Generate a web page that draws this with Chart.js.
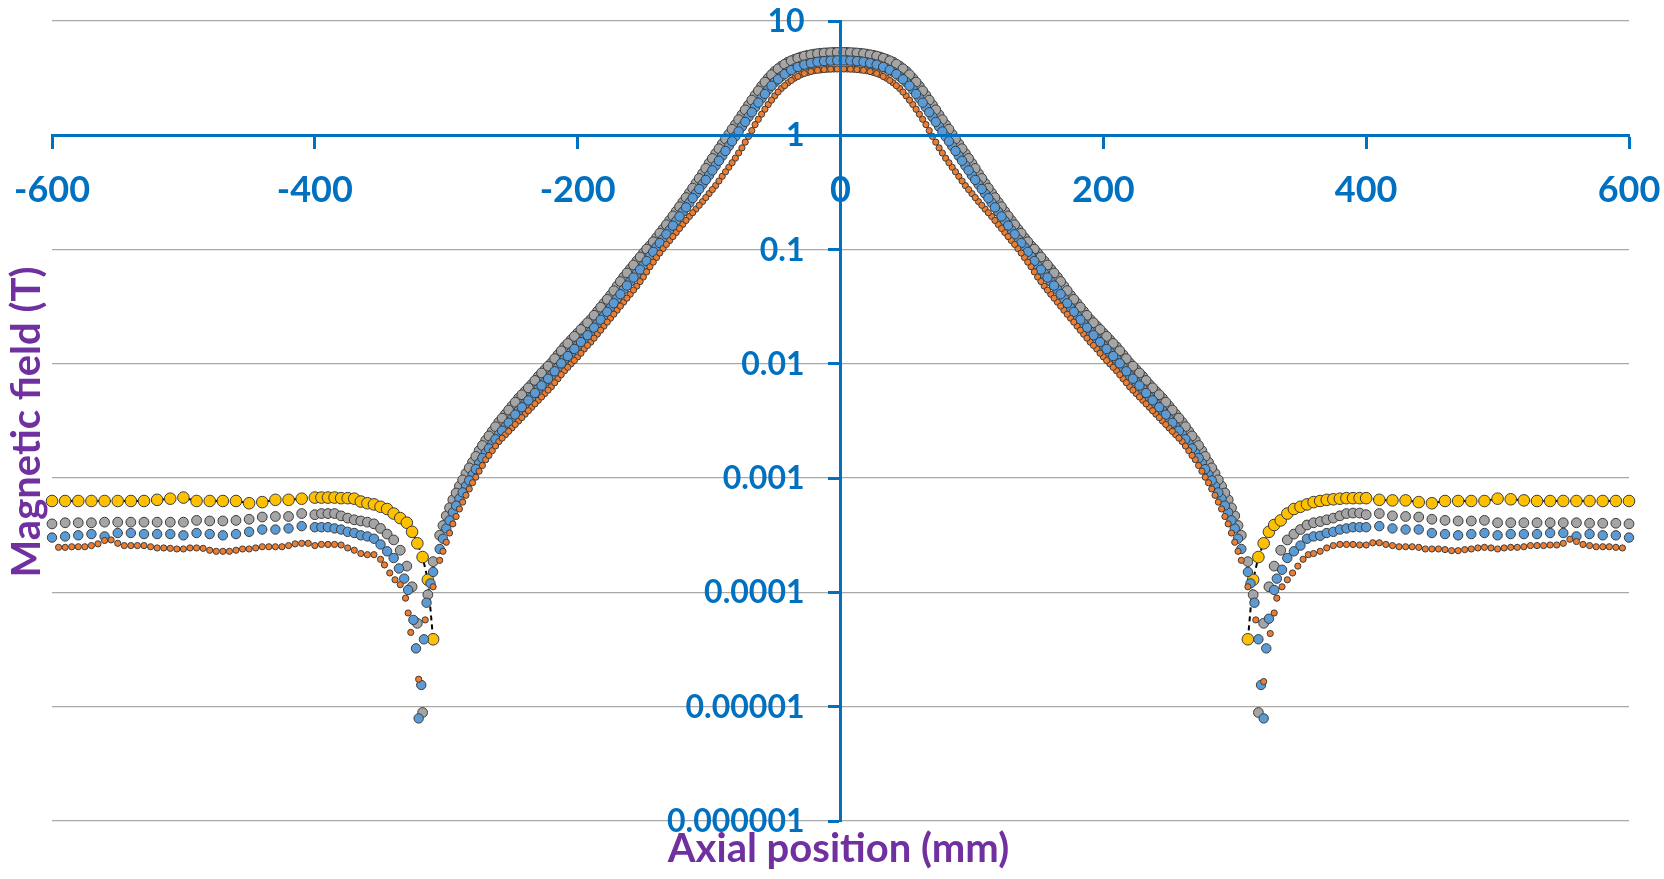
<!DOCTYPE html>
<html>
<head>
<meta charset="utf-8">
<title>Magnetic field vs axial position</title>
<script src="https://cdn.jsdelivr.net/npm/chart.js@4.4.1/dist/chart.umd.min.js"></script>
<style>
  html, body { margin: 0; padding: 0; background: #ffffff; }
  #wrap { width: 1664px; height: 879px; position: relative; }
</style>
</head>
<body>
<div id="wrap"><canvas id="fieldChart"></canvas></div>
<script>

// ================= DATA =================

const xTicks = [-600, -400, -200, 0, 200, 400, 600];
const xTickLabels = ["-600", "-400", "-200", "0", "200", "400", "600"];
const yTicks = [0.000001, 0.00001, 0.0001, 0.001, 0.01, 0.1, 1, 10];
const yTickLabels = ["0.000001", "0.00001", "0.0001", "0.001", "0.01", "0.1", "1", "10"];

// central part, shared x positions (mm)
const coreX = [
  -305, -300, -295, -290, -285, -280, -275, -270, -265, -260, -255, -250, -245, -240, -235, -230,
  -225, -220, -215, -210, -205, -200, -195, -190, -185, -180, -175, -170, -165, -160, -155, -150,
  -145, -140, -135, -130, -125, -120, -115, -110, -105, -100, -95, -90, -85, -80, -75, -70,
  -65, -60, -55, -50, -45, -40, -35, -30, -25, -20, -15, -10, -5,
  0,
  5, 10, 15, 20, 25, 30, 35, 40, 45, 50, 55, 60, 65, 70, 75, 80,
  85, 90, 95, 100, 105, 110, 115, 120, 125, 130, 135, 140, 145, 150, 155, 160,
  165, 170, 175, 180, 185, 190, 195, 200, 205, 210, 215, 220, 225, 230, 235, 240,
  245, 250, 255, 260, 265, 270, 275, 280, 285, 290, 295, 300, 305
];

const grayCore = [
  3.16e-4, 4.68e-4, 6.46e-4, 8.51e-4, 1.10e-3, 1.38e-3, 1.74e-3, 2.14e-3, 2.57e-3, 3.09e-3, 3.63e-3, 4.27e-3, 5.01e-3, 5.75e-3, 6.61e-3, 7.76e-3,
  8.91e-3, 1.02e-2, 1.20e-2, 1.41e-2, 1.62e-2, 1.86e-2, 2.14e-2, 2.45e-2, 2.88e-2, 3.39e-2, 3.98e-2, 4.79e-2, 5.75e-2, 6.76e-2, 7.94e-2, 9.33e-2,
  0.108, 0.127, 0.151, 0.180, 0.216, 0.260, 0.313, 0.380, 0.462, 0.569, 0.692, 0.841, 1.02, 1.24, 1.51, 1.84,
  2.24, 2.69, 3.16, 3.63, 4.03, 4.37, 4.62, 4.84, 5.01, 5.13, 5.22, 5.27, 5.31,
  5.31,
  5.31, 5.27, 5.22, 5.13, 5.01, 4.84, 4.62, 4.37, 4.03, 3.63, 3.16, 2.69, 2.24, 1.84, 1.51, 1.24,
  1.02, 0.841, 0.692, 0.569, 0.462, 0.380, 0.313, 0.260, 0.216, 0.180, 0.151, 0.127, 0.108, 9.33e-2, 7.94e-2, 6.76e-2,
  5.75e-2, 4.79e-2, 3.98e-2, 3.39e-2, 2.88e-2, 2.45e-2, 2.14e-2, 1.86e-2, 1.62e-2, 1.41e-2, 1.20e-2, 1.02e-2, 8.91e-3, 7.76e-3, 6.61e-3, 5.75e-3,
  5.01e-3, 4.27e-3, 3.63e-3, 3.09e-3, 2.57e-3, 2.14e-3, 1.74e-3, 1.38e-3, 1.10e-3, 8.51e-4, 6.46e-4, 4.68e-4, 3.16e-4
];

const blueCore = [
  2.40e-4, 3.63e-4, 5.01e-4, 6.61e-4, 8.51e-4, 1.07e-3, 1.35e-3, 1.66e-3, 2.00e-3, 2.40e-3, 2.82e-3, 3.31e-3, 3.89e-3, 4.47e-3, 5.13e-3, 6.03e-3,
  6.92e-3, 7.94e-3, 9.33e-3, 1.10e-2, 1.26e-2, 1.45e-2, 1.66e-2, 1.91e-2, 2.24e-2, 2.63e-2, 3.09e-2, 3.72e-2, 4.47e-2, 5.25e-2, 6.17e-2, 7.24e-2,
  8.71e-2, 0.105, 0.124, 0.148, 0.178, 0.214, 0.257, 0.309, 0.372, 0.447, 0.543, 0.661, 0.804, 0.977, 1.19, 1.45,
  1.76, 2.11, 2.51, 2.92, 3.27, 3.59, 3.85, 4.07, 4.22, 4.35, 4.44, 4.49, 4.52,
  4.52,
  4.52, 4.49, 4.44, 4.35, 4.22, 4.07, 3.85, 3.59, 3.27, 2.92, 2.51, 2.11, 1.76, 1.45, 1.19, 0.977,
  0.804, 0.661, 0.543, 0.447, 0.372, 0.309, 0.257, 0.214, 0.178, 0.148, 0.124, 0.105, 8.71e-2, 7.24e-2, 6.17e-2, 5.25e-2,
  4.47e-2, 3.72e-2, 3.09e-2, 2.63e-2, 2.24e-2, 1.91e-2, 1.66e-2, 1.45e-2, 1.26e-2, 1.10e-2, 9.33e-3, 7.94e-3, 6.92e-3, 6.03e-3, 5.13e-3, 4.47e-3,
  3.89e-3, 3.31e-3, 2.82e-3, 2.40e-3, 2.00e-3, 1.66e-3, 1.35e-3, 1.07e-3, 8.51e-4, 6.61e-4, 5.01e-4, 3.63e-4, 2.40e-4
];

const orangeCore = [
  1.91e-4, 2.75e-4, 3.98e-4, 5.37e-4, 7.08e-4, 9.12e-4, 1.15e-3, 1.45e-3, 1.74e-3, 2.09e-3, 2.40e-3, 2.75e-3, 3.16e-3, 3.63e-3, 4.17e-3, 4.79e-3,
  5.50e-3, 6.31e-3, 7.41e-3, 8.71e-3, 1.00e-2, 1.15e-2, 1.35e-2, 1.55e-2, 1.82e-2, 2.14e-2, 2.51e-2, 2.95e-2, 3.47e-2, 4.07e-2, 4.79e-2, 5.75e-2,
  7.08e-2, 8.51e-2, 0.102, 0.120, 0.141, 0.166, 0.195, 0.226, 0.263, 0.309, 0.363, 0.437, 0.525, 0.631, 0.776, 0.977,
  1.24, 1.53, 1.86, 2.21, 2.57, 2.88, 3.16, 3.39, 3.55, 3.67, 3.73, 3.78, 3.80,
  3.80,
  3.80, 3.78, 3.73, 3.67, 3.55, 3.39, 3.16, 2.88, 2.57, 2.21, 1.86, 1.53, 1.24, 0.977, 0.776, 0.631,
  0.525, 0.437, 0.363, 0.309, 0.263, 0.226, 0.195, 0.166, 0.141, 0.120, 0.102, 8.51e-2, 7.08e-2, 5.75e-2, 4.79e-2, 4.07e-2,
  3.47e-2, 2.95e-2, 2.51e-2, 2.14e-2, 1.82e-2, 1.55e-2, 1.35e-2, 1.15e-2, 1.00e-2, 8.71e-3, 7.41e-3, 6.31e-3, 5.50e-3, 4.79e-3, 4.17e-3, 3.63e-3,
  3.16e-3, 2.75e-3, 2.40e-3, 2.09e-3, 1.74e-3, 1.45e-3, 1.15e-3, 9.12e-4, 7.08e-4, 5.37e-4, 3.98e-4, 2.75e-4, 1.91e-4
];

// the central samples in between (x = +/-2.5, 7.5, ... mm)
const midX = [
  -302.5, -297.5, -292.5, -287.5, -282.5, -277.5, -272.5, -267.5, -262.5, -257.5,
  -252.5, -247.5, -242.5, -237.5, -232.5, -227.5, -222.5, -217.5, -212.5, -207.5,
  -202.5, -197.5, -192.5, -187.5, -182.5, -177.5, -172.5, -167.5, -162.5, -157.5,
  -152.5, -147.5, -142.5, -137.5, -132.5, -127.5, -122.5, -117.5, -112.5, -107.5,
  -102.5, -97.5, -92.5, -87.5, -82.5, -77.5, -72.5, -67.5, -62.5, -57.5,
  -52.5, -47.5, -42.5, -37.5, -32.5, -27.5, -22.5, -17.5, -12.5, -7.5, -2.5,
  2.5, 7.5, 12.5, 17.5, 22.5, 27.5, 32.5, 37.5, 42.5, 47.5, 52.5,
  57.5, 62.5, 67.5, 72.5, 77.5, 82.5, 87.5, 92.5, 97.5, 102.5,
  107.5, 112.5, 117.5, 122.5, 127.5, 132.5, 137.5, 142.5, 147.5, 152.5,
  157.5, 162.5, 167.5, 172.5, 177.5, 182.5, 187.5, 192.5, 197.5, 202.5,
  207.5, 212.5, 217.5, 222.5, 227.5, 232.5, 237.5, 242.5, 247.5, 252.5,
  257.5, 262.5, 267.5, 272.5, 277.5, 282.5, 287.5, 292.5, 297.5, 302.5
];

const grayMid = [
  3.85e-4, 5.50e-4, 7.41e-4, 9.66e-4, 1.23e-3, 1.55e-3, 1.93e-3, 2.34e-3, 2.82e-3, 3.35e-3,
  3.94e-3, 4.62e-3, 5.37e-3, 6.17e-3, 7.16e-3, 8.32e-3, 9.55e-3, 1.11e-2, 1.30e-2, 1.51e-2,
  1.74e-2, 2.00e-2, 2.29e-2, 2.66e-2, 3.13e-2, 3.67e-2, 4.37e-2, 5.25e-2, 6.24e-2, 7.33e-2,
  8.61e-2, 0.101, 0.117, 0.139, 0.165, 0.197, 0.237, 0.285, 0.345, 0.419,
  0.513, 0.627, 0.763, 0.928, 1.13, 1.37, 1.67, 2.03, 2.45, 2.92,
  3.39, 3.82, 4.19, 4.49, 4.73, 4.93, 5.07, 5.18, 5.25, 5.29, 5.31,
  5.31, 5.29, 5.25, 5.18, 5.07, 4.93, 4.73, 4.49, 4.19, 3.82, 3.39,
  2.92, 2.45, 2.03, 1.67, 1.37, 1.13, 0.928, 0.763, 0.627, 0.513,
  0.419, 0.345, 0.285, 0.237, 0.197, 0.165, 0.139, 0.117, 0.101, 8.61e-2,
  7.33e-2, 6.24e-2, 5.25e-2, 4.37e-2, 3.67e-2, 3.13e-2, 2.66e-2, 2.29e-2, 2.00e-2, 1.74e-2,
  1.51e-2, 1.30e-2, 1.11e-2, 9.55e-3, 8.32e-3, 7.16e-3, 6.17e-3, 5.37e-3, 4.62e-3, 3.94e-3,
  3.35e-3, 2.82e-3, 2.34e-3, 1.93e-3, 1.55e-3, 1.23e-3, 9.66e-4, 7.41e-4, 5.50e-4, 3.85e-4
];

const blueMid = [
  2.95e-4, 4.27e-4, 5.75e-4, 7.50e-4, 9.55e-4, 1.20e-3, 1.50e-3, 1.82e-3, 2.19e-3, 2.60e-3,
  3.05e-3, 3.59e-3, 4.17e-3, 4.79e-3, 5.56e-3, 6.46e-3, 7.41e-3, 8.61e-3, 1.01e-2, 1.17e-2,
  1.35e-2, 1.55e-2, 1.78e-2, 2.07e-2, 2.43e-2, 2.85e-2, 3.39e-2, 4.07e-2, 4.84e-2, 5.69e-2,
  6.68e-2, 7.94e-2, 9.55e-2, 0.114, 0.136, 0.162, 0.195, 0.234, 0.282, 0.339,
  0.407, 0.493, 0.599, 0.729, 0.886, 1.08, 1.31, 1.59, 1.93, 2.30,
  2.71, 3.09, 3.43, 3.72, 3.96, 4.15, 4.28, 4.39, 4.46, 4.50, 4.52,
  4.52, 4.50, 4.46, 4.39, 4.28, 4.15, 3.96, 3.72, 3.43, 3.09, 2.71,
  2.30, 1.93, 1.59, 1.31, 1.08, 0.886, 0.729, 0.599, 0.493, 0.407,
  0.339, 0.282, 0.234, 0.195, 0.162, 0.136, 0.114, 9.55e-2, 7.94e-2, 6.68e-2,
  5.69e-2, 4.84e-2, 4.07e-2, 3.39e-2, 2.85e-2, 2.43e-2, 2.07e-2, 1.78e-2, 1.55e-2, 1.35e-2,
  1.17e-2, 1.01e-2, 8.61e-3, 7.41e-3, 6.46e-3, 5.56e-3, 4.79e-3, 4.17e-3, 3.59e-3, 3.05e-3,
  2.60e-3, 2.19e-3, 1.82e-3, 1.50e-3, 1.20e-3, 9.55e-4, 7.50e-4, 5.75e-4, 4.27e-4, 2.95e-4
];

const orangeMid = [
  2.29e-4, 3.31e-4, 4.62e-4, 6.17e-4, 8.04e-4, 1.02e-3, 1.29e-3, 1.58e-3, 1.91e-3, 2.24e-3,
  2.57e-3, 2.95e-3, 3.39e-3, 3.89e-3, 4.47e-3, 5.13e-3, 5.89e-3, 6.84e-3, 8.04e-3, 9.33e-3,
  1.07e-2, 1.24e-2, 1.45e-2, 1.68e-2, 1.97e-2, 2.32e-2, 2.72e-2, 3.20e-2, 3.76e-2, 4.42e-2,
  5.25e-2, 6.38e-2, 7.76e-2, 9.33e-2, 0.111, 0.130, 0.153, 0.180, 0.210, 0.244,
  0.285, 0.335, 0.398, 0.479, 0.575, 0.700, 0.871, 1.10, 1.38, 1.69,
  2.03, 2.39, 2.72, 3.02, 3.27, 3.47, 3.61, 3.70, 3.76, 3.79, 3.80,
  3.80, 3.79, 3.76, 3.70, 3.61, 3.47, 3.27, 3.02, 2.72, 2.39, 2.03,
  1.69, 1.38, 1.10, 0.871, 0.700, 0.575, 0.479, 0.398, 0.335, 0.285,
  0.244, 0.210, 0.180, 0.153, 0.130, 0.111, 9.33e-2, 7.76e-2, 6.38e-2, 5.25e-2,
  4.42e-2, 3.76e-2, 3.20e-2, 2.72e-2, 2.32e-2, 1.97e-2, 1.68e-2, 1.45e-2, 1.24e-2, 1.07e-2,
  9.33e-3, 8.04e-3, 6.84e-3, 5.89e-3, 5.13e-3, 4.47e-3, 3.89e-3, 3.39e-3, 2.95e-3, 2.57e-3,
  2.24e-3, 1.91e-3, 1.58e-3, 1.29e-3, 1.02e-3, 8.04e-4, 6.17e-4, 4.62e-4, 3.31e-4, 2.29e-4
];

// outer parts and the dips
const grayLeftX = [
  -600, -590, -580, -570, -560, -550, -540, -530, -520, -510, -500, -490, -480, -470, -460, -450, -440, -430, -420, -410, -400,
  -395, -390, -385, -380, -375, -370, -365, -360, -355, -350, -345, -340, -335, -330, -326, -322, -318, -314, -310
];
const grayLeft = [
  3.98e-4, 4.07e-4, 4.07e-4, 4.07e-4, 4.12e-4, 4.12e-4, 4.12e-4, 4.12e-4, 4.12e-4, 4.12e-4, 4.12e-4, 4.27e-4, 4.22e-4, 4.22e-4, 4.27e-4, 4.37e-4, 4.57e-4, 4.62e-4, 4.62e-4, 4.90e-4, 4.79e-4,
  4.90e-4, 4.90e-4, 4.90e-4, 4.68e-4, 4.47e-4, 4.32e-4, 4.22e-4, 4.12e-4, 3.98e-4, 3.63e-4, 3.24e-4, 2.88e-4, 2.34e-4, 1.70e-4, 1.12e-4, 5.37e-5, 8.9e-6, 9.55e-5, 1.86e-4
];
const grayRightX = [
  310, 314, 318, 322, 326, 330, 335, 340, 345, 350, 355, 360, 365, 370, 375, 380, 385, 390, 395,
  400, 410, 420, 430, 440, 450, 460, 470, 480, 490, 500, 510, 520, 530, 540, 550, 560, 570, 580, 590, 600
];
const grayRight = [
  1.86e-4, 9.55e-5, 8.9e-6, 5.37e-5, 1.12e-4, 1.70e-4, 2.34e-4, 2.88e-4, 3.24e-4, 3.55e-4, 3.89e-4, 4.07e-4, 4.17e-4, 4.32e-4, 4.47e-4, 4.68e-4, 4.90e-4, 4.95e-4, 4.95e-4,
  4.79e-4, 4.90e-4, 4.68e-4, 4.62e-4, 4.57e-4, 4.37e-4, 4.27e-4, 4.22e-4, 4.22e-4, 4.27e-4, 4.07e-4, 4.07e-4, 4.07e-4, 4.07e-4, 4.07e-4, 4.07e-4, 4.07e-4, 4.03e-4, 4.03e-4, 4.03e-4, 3.98e-4
];

const blueLeftX = [
  -600, -590, -580, -570, -560, -550, -540, -530, -520, -510, -500, -490, -480, -470, -460, -450, -440, -430, -420, -410, -400,
  -395, -390, -385, -380, -375, -370, -365, -360, -355, -350, -345,
  -340, -336, -332, -329, -325, -323, -321, -319, -317, -315, -312, -310
];
const blueLeft = [
  3.02e-4, 3.09e-4, 3.16e-4, 3.24e-4, 3.09e-4, 3.31e-4, 3.31e-4, 3.24e-4, 3.24e-4, 3.24e-4, 3.16e-4, 3.31e-4, 3.24e-4, 3.16e-4, 3.24e-4, 3.39e-4, 3.55e-4, 3.55e-4, 3.63e-4, 3.80e-4, 3.72e-4,
  3.72e-4, 3.72e-4, 3.63e-4, 3.55e-4, 3.39e-4, 3.31e-4, 3.16e-4, 3.09e-4, 2.95e-4, 2.63e-4, 2.29e-4,
  2.00e-4, 1.62e-4, 1.32e-4, 1.05e-4, 5.75e-5, 3.24e-5, 7.9e-6, 1.55e-5, 3.89e-5, 8.13e-5, 1.20e-4, 1.51e-4
];
const blueRightX = [
  310, 312, 315, 318, 320, 322, 324, 326, 330, 332, 336, 340,
  345, 350, 355, 360, 365, 370, 375, 380, 385, 390, 395,
  400, 410, 420, 430, 440, 450, 460, 470, 480, 490, 500, 510, 520, 530, 540, 550, 560, 570, 580, 590, 600
];
const blueRight = [
  1.51e-4, 1.20e-4, 8.13e-5, 3.89e-5, 1.55e-5, 7.9e-6, 3.24e-5, 5.89e-5, 1.05e-4, 1.32e-4, 1.58e-4, 2.00e-4,
  2.29e-4, 2.57e-4, 2.95e-4, 3.09e-4, 3.13e-4, 3.31e-4, 3.39e-4, 3.55e-4, 3.63e-4, 3.72e-4, 3.72e-4,
  3.72e-4, 3.80e-4, 3.63e-4, 3.55e-4, 3.55e-4, 3.31e-4, 3.24e-4, 3.16e-4, 3.24e-4, 3.31e-4, 3.16e-4, 3.24e-4, 3.24e-4, 3.24e-4, 3.31e-4, 3.31e-4, 3.09e-4, 3.24e-4, 3.16e-4, 3.16e-4, 3.02e-4
];

const orangeLeftX = [
  -595, -590, -585, -580, -575, -570, -565, -560, -555, -550, -545, -540, -535, -530, -525, -520, -515, -510, -505, -500,
  -495, -490, -485, -480, -475, -470, -465, -460, -455, -450, -445, -440, -435, -430, -425, -420, -415, -410, -405, -400,
  -395, -390, -385, -380, -375, -370, -365, -360, -355,
  -350, -347, -343, -339, -335, -331, -329, -327, -321, -316, -310
];
const orangeLeft = [
  2.48e-4, 2.48e-4, 2.51e-4, 2.51e-4, 2.51e-4, 2.57e-4, 2.66e-4, 2.85e-4, 2.88e-4, 2.69e-4, 2.57e-4, 2.57e-4, 2.57e-4, 2.57e-4, 2.51e-4, 2.45e-4, 2.45e-4, 2.43e-4, 2.40e-4, 2.40e-4,
  2.45e-4, 2.45e-4, 2.43e-4, 2.34e-4, 2.29e-4, 2.29e-4, 2.29e-4, 2.34e-4, 2.40e-4, 2.40e-4, 2.45e-4, 2.51e-4, 2.51e-4, 2.51e-4, 2.51e-4, 2.57e-4, 2.66e-4, 2.69e-4, 2.69e-4, 2.57e-4,
  2.63e-4, 2.63e-4, 2.63e-4, 2.60e-4, 2.45e-4, 2.34e-4, 2.19e-4, 2.14e-4, 2.14e-4,
  1.95e-4, 1.74e-4, 1.48e-4, 1.29e-4, 1.17e-4, 8.91e-5, 6.61e-5, 4.47e-5, 1.74e-5, 5.75e-5, 1.12e-4
];
const orangeRightX = [
  310, 316, 322, 327, 330, 332, 336, 340, 344, 348, 352, 356,
  360, 365, 370, 375, 380, 385, 390, 395, 400, 405, 410, 415, 420, 425, 430, 435, 440, 445, 450, 455,
  460, 465, 470, 475, 480, 485, 490, 495, 500, 505, 510, 515, 520, 525, 530, 535, 540, 545, 550, 555,
  560, 565, 570, 575, 580, 585, 590, 595
];
const orangeRight = [
  1.12e-4, 5.75e-5, 1.66e-5, 4.37e-5, 6.61e-5, 8.91e-5, 1.12e-4, 1.29e-4, 1.48e-4, 1.70e-4, 1.95e-4, 2.14e-4,
  2.19e-4, 2.29e-4, 2.45e-4, 2.57e-4, 2.63e-4, 2.63e-4, 2.63e-4, 2.60e-4, 2.60e-4, 2.72e-4, 2.72e-4, 2.63e-4, 2.57e-4, 2.51e-4, 2.51e-4, 2.51e-4, 2.48e-4, 2.40e-4, 2.40e-4, 2.40e-4,
  2.37e-4, 2.32e-4, 2.32e-4, 2.37e-4, 2.40e-4, 2.45e-4, 2.48e-4, 2.45e-4, 2.40e-4, 2.45e-4, 2.48e-4, 2.48e-4, 2.51e-4, 2.57e-4, 2.57e-4, 2.57e-4, 2.60e-4, 2.60e-4, 2.69e-4, 2.92e-4,
  2.79e-4, 2.63e-4, 2.57e-4, 2.51e-4, 2.51e-4, 2.51e-4, 2.48e-4, 2.45e-4
];

const yellowLeftX = [
  -600, -590, -580, -570, -560, -550, -540, -530, -520, -510, -500, -490, -480, -470, -460, -450, -440, -430, -420, -410, -400,
  -395, -390, -385, -380, -375, -370, -365, -360, -355, -350, -345, -340, -335, -330,
  -326, -322, -318, -314, -310
];
const yellowLeft = [
  6.31e-4, 6.31e-4, 6.31e-4, 6.31e-4, 6.31e-4, 6.31e-4, 6.31e-4, 6.31e-4, 6.46e-4, 6.61e-4, 6.76e-4, 6.31e-4, 6.31e-4, 6.31e-4, 6.31e-4, 6.03e-4, 6.17e-4, 6.46e-4, 6.46e-4, 6.61e-4, 6.76e-4,
  6.76e-4, 6.76e-4, 6.76e-4, 6.68e-4, 6.68e-4, 6.61e-4, 6.24e-4, 6.03e-4, 5.89e-4, 5.62e-4, 5.37e-4, 4.90e-4, 4.47e-4, 4.07e-4,
  3.39e-4, 2.69e-4, 2.04e-4, 1.29e-4, 3.89e-5
];
const yellowRightX = [
  310, 314, 318, 322, 326, 330,
  335, 340, 345, 350, 355, 360, 365, 370, 375, 380, 385, 390, 395,
  400, 410, 420, 430, 440, 450, 460, 470, 480, 490, 500, 510, 520, 530, 540, 550, 560, 570, 580, 590, 600
];
const yellowRight = [
  3.89e-5, 1.29e-4, 2.04e-4, 2.69e-4, 3.39e-4, 3.89e-4,
  4.27e-4, 4.90e-4, 5.37e-4, 5.62e-4, 5.89e-4, 6.17e-4, 6.31e-4, 6.46e-4, 6.53e-4, 6.61e-4, 6.68e-4, 6.68e-4, 6.68e-4,
  6.68e-4, 6.46e-4, 6.39e-4, 6.39e-4, 6.17e-4, 6.03e-4, 6.31e-4, 6.31e-4, 6.31e-4, 6.31e-4, 6.61e-4, 6.53e-4, 6.39e-4, 6.31e-4, 6.31e-4, 6.31e-4, 6.31e-4, 6.31e-4, 6.31e-4, 6.31e-4, 6.31e-4
];


// ================= HELPERS =================

function series(xs, ys) {
  return xs.map((x, i) => ({ x: x, y: ys[i] }));
}

const grayData = series(
  [...grayLeftX, ...coreX, ...midX, ...grayRightX],
  [...grayLeft, ...grayCore, ...grayMid, ...grayRight]
);
const blueData = series(
  [...blueLeftX, ...coreX, ...midX, ...blueRightX],
  [...blueLeft, ...blueCore, ...blueMid, ...blueRight]
);
const orangeData = series(
  [...orangeLeftX, ...coreX, ...midX, ...orangeRightX],
  [...orangeLeft, ...orangeCore, ...orangeMid, ...orangeRight]
);

const BLUE = "#0070C0";
const PURPLE = "#7030A0";
const EDGE = "#3c3c3c";


// ================= TEXT (tick labels + axis titles) =================

const axisText = {
  id: "axisText",
  afterDraw(chart) {
    const ctx = chart.ctx;
    const x = chart.scales.x;
    const y = chart.scales.y;
    const area = chart.chartArea;

    const xAxisY = y.getPixelForValue(1);
    const yAxisX = x.getPixelForValue(0);

    ctx.save();
    ctx.fillStyle = BLUE;
    ctx.textBaseline = "alphabetic";

    ctx.font = "bold 36px Lato";
    ctx.textAlign = "center";
    xTicks.forEach((v, i) => {
      ctx.fillText(xTickLabels[i], x.getPixelForValue(v), xAxisY + 67);
    });

    ctx.font = "bold 32px Lato";
    ctx.textAlign = "right";
    yTicks.forEach((v, i) => {
      ctx.fillText(yTickLabels[i], yAxisX - 36, y.getPixelForValue(v) + 11);
    });

    ctx.fillStyle = PURPLE;
    ctx.font = "bold 40px Lato";
    ctx.textAlign = "center";
    ctx.fillText("Axial position (mm)", (area.left + area.right) / 2 - 2, 862);

    ctx.translate(40, (area.top + area.bottom) / 2 + 1);
    ctx.rotate(-Math.PI / 2);
    ctx.fillText("Magnetic field (T)", 0, 0);
    ctx.restore();
  }
};


// ================= CHART =================

const ctx = document.getElementById("fieldChart").getContext("2d");

new Chart(ctx, {
  type: "scatter",
  data: {
    datasets: [
      {
        label: "orange",
        data: orangeData,
        pointRadius: 3.1,
        pointBackgroundColor: "#ED7D31",
        pointBorderColor: EDGE,
        pointBorderWidth: 1,
        clip: false
      },
      {
        label: "blue",
        data: blueData,
        pointRadius: 4.7,
        pointBackgroundColor: "#5B9BD5",
        pointBorderColor: EDGE,
        pointBorderWidth: 1,
        clip: false
      },
      {
        label: "gray",
        data: grayData,
        pointRadius: 4.9,
        pointBackgroundColor: "#A5A5A5",
        pointBorderColor: EDGE,
        pointBorderWidth: 1,
        clip: false
      },
      {
        label: "yellow left",
        data: series(yellowLeftX, yellowLeft),
        showLine: true,
        borderColor: "#000000",
        borderWidth: 2,
        borderDash: [5, 4],
        pointRadius: 5.8,
        pointBackgroundColor: "#FFC000",
        pointBorderColor: EDGE,
        pointBorderWidth: 1,
        clip: false
      },
      {
        label: "yellow right",
        data: series(yellowRightX, yellowRight),
        showLine: true,
        borderColor: "#000000",
        borderWidth: 2,
        borderDash: [5, 4],
        pointRadius: 5.8,
        pointBackgroundColor: "#FFC000",
        pointBorderColor: EDGE,
        pointBorderWidth: 1,
        clip: false
      }
    ]
  },
  options: {
    responsive: true,
    maintainAspectRatio: false,
    animation: false,
    events: [],
    layout: {
      padding: { left: 52, right: 35, top: 21, bottom: 58 }
    },
    plugins: {
      legend: { display: false },
      tooltip: { enabled: false }
    },
    scales: {
      x: {
        type: "linear",
        min: -600,
        max: 600,
        position: { y: 1 },
        afterBuildTicks: (s) => { s.ticks = xTicks.map(v => ({ value: v })); },
        ticks: { display: false },
        grid: {
          drawOnChartArea: false,
          drawTicks: true,
          tickLength: 12,
          tickWidth: 3,
          tickColor: BLUE,
          color: BLUE,
          z: 1
        },
        border: { color: BLUE, width: 3, z: 1 }
      },
      y: {
        type: "logarithmic",
        min: 0.000001,
        max: 10,
        position: { x: 0 },
        afterBuildTicks: (s) => { s.ticks = yTicks.map(v => ({ value: v })); },
        ticks: { display: false },
        grid: {
          drawOnChartArea: false,
          drawTicks: true,
          tickLength: 11,
          tickWidth: 3,
          tickColor: BLUE,
          color: BLUE,
          z: 1
        },
        border: { color: BLUE, width: 3, z: 1 }
      },
      yGrid: {
        axis: "y",
        type: "logarithmic",
        min: 0.000001,
        max: 10,
        position: { x: 0 },
        afterBuildTicks: (s) => { s.ticks = yTicks.map(v => ({ value: v })); },
        ticks: { display: false },
        grid: { color: "#A9A9A9", lineWidth: 1.3, drawTicks: false },
        border: { display: false }
      }
    }
  },
  plugins: [axisText]
});

</script>
</body>
</html>
